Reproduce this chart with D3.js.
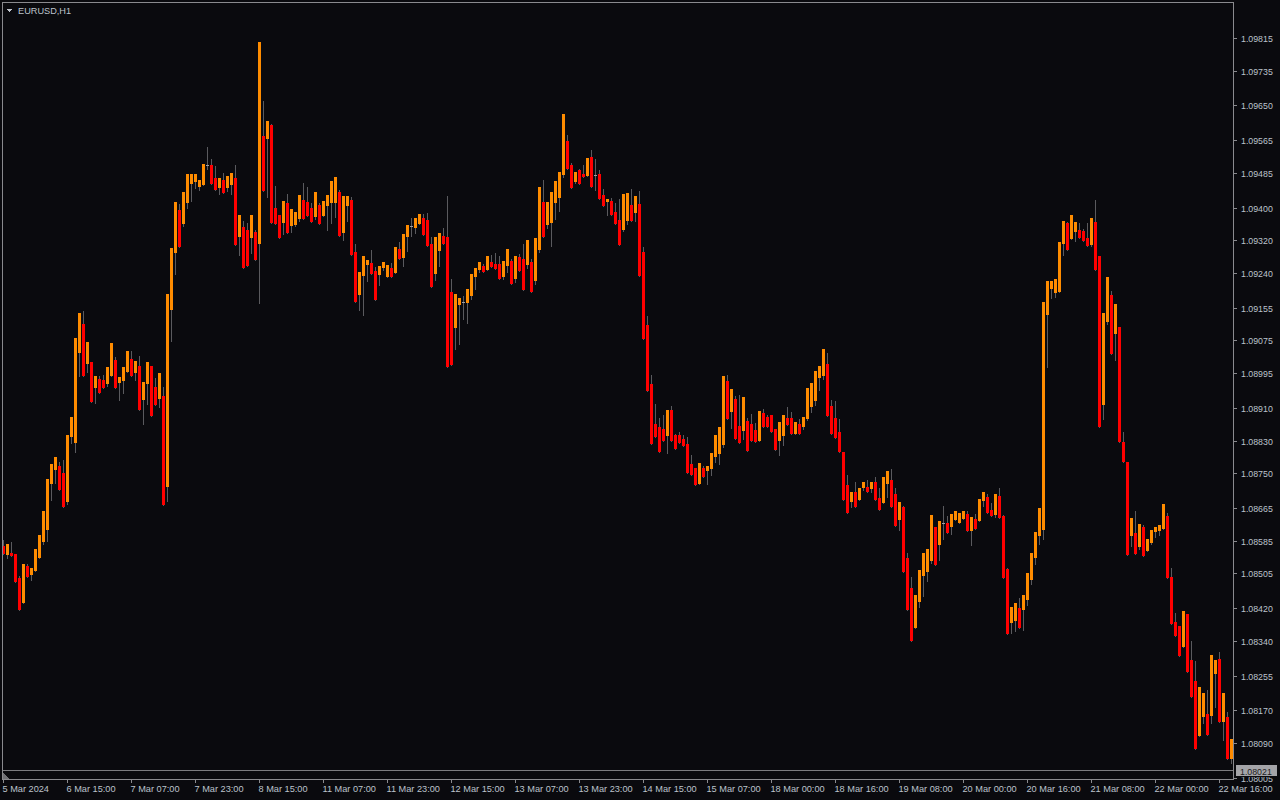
<!DOCTYPE html>
<html><head><meta charset="utf-8">
<script src="https://cdn.jsdelivr.net/npm/d3@7"></script>
<style>html,body{margin:0;padding:0;background:#0a0a0e;overflow:hidden}svg{display:block}</style>
</head><body>
<svg id="c" width="1280" height="800"></svg>
<script>
const symbol = "EURUSD,H1";
const bidPrice = 1.08021;
const priceTicks = [1.09815,1.09735,1.09650,1.09565,1.09485,1.09400,1.09320,1.09240,1.09155,1.09075,1.08995,1.08910,1.08830,1.08750,1.08665,1.08585,1.08505,1.08420,1.08340,1.08255,1.08170,1.08090,1.08005];
const timeLabels = ["5 Mar 2024","6 Mar 15:00","7 Mar 07:00","7 Mar 23:00","8 Mar 15:00","11 Mar 07:00","11 Mar 23:00","12 Mar 15:00","13 Mar 07:00","13 Mar 23:00","14 Mar 15:00","15 Mar 07:00","18 Mar 00:00","18 Mar 16:00","19 Mar 08:00","20 Mar 00:00","20 Mar 16:00","21 Mar 08:00","22 Mar 00:00","22 Mar 16:00"];
const timeLabelBars = [0,16,32,48,64,80,96,112,128,144,160,176,192,208,224,240,256,272,288,304];

const opens = [
1.08572,1.08550,1.08555,1.08552,1.08494,1.08433,1.08523,1.08501,1.08511,1.08543,
1.08582,1.08611,1.08724,1.08758,1.08768,1.08751,1.08680,1.08839,1.08824,1.09044,
1.09115,1.09017,1.09022,1.08959,1.08981,1.08978,1.08968,1.08988,1.09027,1.08971,
1.08976,1.08998,1.09030,1.08995,1.09012,1.08929,1.08968,1.09012,1.08961,1.08932,
1.08939,1.08716,1.09149,1.09289,1.09394,1.09360,1.09411,1.09458,1.09463,1.09450,
1.09455,1.09504,1.09504,1.09472,1.09448,1.09468,1.09448,1.09455,1.09472,1.09328,
1.09353,1.09345,1.09326,1.09340,1.09311,1.09575,1.09568,1.09602,1.09399,1.09382,
1.09362,1.09411,1.09355,1.09357,1.09372,1.09419,1.09414,1.09399,1.09377,1.09406,
1.09379,1.09404,1.09411,1.09411,1.09438,1.09338,1.09404,1.09419,1.09291,1.09186,
1.09233,1.09260,1.09264,1.09245,1.09235,1.09252,1.09230,1.09252,1.09240,1.09299,
1.09277,1.09328,1.09355,1.09350,1.09360,1.09375,1.09370,1.09311,1.09238,1.09294,
1.09331,1.09328,1.09194,1.09105,1.09162,1.09169,1.09167,1.09184,1.09230,1.09247,
1.09257,1.09247,1.09267,1.09262,1.09262,1.09230,1.09257,1.09269,1.09225,1.09279,
1.09274,1.09260,1.09267,1.09220,1.09296,1.09414,1.09357,1.09362,1.09411,1.09424,
1.09480,1.09563,1.09504,1.09463,1.09492,1.09482,1.09477,1.09524,1.09480,1.09482,
1.09431,1.09414,1.09416,1.09389,1.09370,1.09345,1.09367,1.09406,1.09387,1.09409,
1.09291,1.09113,1.08968,1.08871,1.08863,1.08858,1.08841,1.08905,1.08844,1.08844,
1.08834,1.08822,1.08773,1.08763,1.08724,1.08763,1.08756,1.08760,1.08790,1.08797,
1.08819,1.08976,1.08900,1.08932,1.08866,1.08853,1.08878,1.08871,1.08856,1.08829,
1.08897,1.08888,1.08893,1.08858,1.08829,1.08841,1.08885,1.08885,1.08846,1.08871,
1.08863,1.08883,1.08912,1.08927,1.08983,1.08988,1.09017,1.08915,1.08885,1.08851,
1.08802,1.08721,1.08680,1.08704,1.08685,1.08714,1.08716,1.08711,1.08729,1.08689,
1.08677,1.08724,1.08734,1.08699,1.08636,1.08667,1.08543,1.08469,1.08371,1.08435,
1.08499,1.08508,1.08535,1.08619,1.08574,1.08628,1.08628,1.08619,1.08636,1.08628,
1.08638,1.08650,1.08609,1.08638,1.08633,1.08682,1.08692,1.08660,1.08648,1.08694,
1.08645,1.08516,1.08384,1.08389,1.08420,1.08415,1.08440,1.08489,1.08543,1.08597,
1.08611,1.09137,1.09201,1.09191,1.09194,1.09311,1.09362,1.09323,1.09340,1.09345,
1.09343,1.09326,1.09309,1.09365,1.09282,1.08917,1.09120,1.09186,1.09091,1.09108,
1.08827,1.08778,1.08597,1.08604,1.08570,1.08619,1.08560,1.08579,1.08606,1.08609,
1.08614,1.08645,1.08496,1.08386,1.08376,1.08325,1.08406,1.08293,1.08242,1.08107,
1.08154,1.08161,1.08156,1.08259,1.08296,1.08141,1.08154,1.08051];

const highs = [
1.08587,1.08577,1.08582,1.08552,1.08499,1.08528,1.08528,1.08518,1.08565,1.08599,
1.08658,1.08736,1.08773,1.08790,1.08778,1.08782,1.08844,1.08888,1.09081,1.09142,
1.09147,1.09071,1.09022,1.08988,1.08988,1.08990,1.09010,1.09069,1.09034,1.08986,
1.09010,1.09049,1.09049,1.09025,1.09037,1.08973,1.09022,1.09012,1.08983,1.08995,
1.08961,1.09189,1.09301,1.09414,1.09409,1.09438,1.09482,1.09482,1.09482,1.09468,
1.09507,1.09548,1.09519,1.09502,1.09472,1.09485,1.09477,1.09485,1.09504,1.09382,
1.09367,1.09362,1.09382,1.09345,1.09805,1.09661,1.09612,1.09605,1.09453,1.09382,
1.09416,1.09433,1.09397,1.09389,1.09431,1.09460,1.09450,1.09411,1.09438,1.09411,
1.09416,1.09431,1.09465,1.09475,1.09443,1.09428,1.09428,1.09426,1.09311,1.09242,
1.09282,1.09272,1.09296,1.09255,1.09257,1.09267,1.09260,1.09264,1.09304,1.09316,
1.09335,1.09357,1.09375,1.09375,1.09384,1.09384,1.09387,1.09328,1.09328,1.09338,
1.09350,1.09428,1.09225,1.09189,1.09179,1.09184,1.09201,1.09238,1.09252,1.09267,
1.09262,1.09282,1.09284,1.09289,1.09282,1.09269,1.09299,1.09274,1.09282,1.09287,
1.09311,1.09321,1.09274,1.09326,1.09450,1.09468,1.09414,1.09438,1.09465,1.09487,
1.09629,1.09578,1.09509,1.09487,1.09494,1.09504,1.09521,1.09541,1.09519,1.09492,
1.09446,1.09421,1.09424,1.09411,1.09421,1.09433,1.09436,1.09446,1.09428,1.09441,
1.09304,1.09135,1.08990,1.08919,1.08885,1.08893,1.08905,1.08915,1.08846,1.08851,
1.08844,1.08839,1.08795,1.08763,1.08775,1.08768,1.08768,1.08800,1.08844,1.08863,
1.08988,1.08990,1.08956,1.08939,1.08942,1.08937,1.08885,1.08895,1.08873,1.08902,
1.08907,1.08893,1.08893,1.08858,1.08875,1.08893,1.08912,1.08900,1.08875,1.08883,
1.08888,1.08959,1.08971,1.09000,1.09012,1.09054,1.09044,1.08929,1.08927,1.08883,
1.08802,1.08746,1.08704,1.08729,1.08714,1.08729,1.08734,1.08729,1.08741,1.08714,
1.08741,1.08756,1.08760,1.08714,1.08680,1.08670,1.08555,1.08496,1.08452,1.08513,
1.08555,1.08565,1.08648,1.08619,1.08633,1.08670,1.08645,1.08650,1.08658,1.08653,
1.08658,1.08658,1.08643,1.08650,1.08687,1.08704,1.08699,1.08677,1.08699,1.08714,
1.08648,1.08518,1.08423,1.08433,1.08445,1.08452,1.08506,1.08555,1.08606,1.08665,
1.09169,1.09220,1.09220,1.09225,1.09316,1.09367,1.09365,1.09382,1.09365,1.09362,
1.09348,1.09362,1.09375,1.09419,1.09282,1.09142,1.09230,1.09196,1.09164,1.09108,
1.08851,1.08778,1.08641,1.08658,1.08626,1.08623,1.08589,1.08611,1.08619,1.08623,
1.08675,1.08653,1.08518,1.08408,1.08376,1.08413,1.08406,1.08340,1.08291,1.08227,
1.08212,1.08220,1.08305,1.08293,1.08313,1.08212,1.08166,1.08100];

const lows = [
1.08552,1.08543,1.08548,1.08484,1.08415,1.08433,1.08496,1.08489,1.08511,1.08543,
1.08577,1.08584,1.08685,1.08726,1.08709,1.08667,1.08675,1.08824,1.08802,1.08988,
1.08988,1.08998,1.08924,1.08922,1.08946,1.08959,1.08964,1.08988,1.08959,1.08929,
1.08946,1.08998,1.08988,1.08978,1.08905,1.08871,1.08919,1.08890,1.08917,1.08912,
1.08672,1.08682,1.09074,1.09238,1.09304,1.09355,1.09399,1.09416,1.09448,1.09443,
1.09455,1.09494,1.09458,1.09443,1.09433,1.09436,1.09441,1.09433,1.09309,1.09284,
1.09252,1.09257,1.09289,1.09272,1.09167,1.09441,1.09426,1.09362,1.09360,1.09326,
1.09335,1.09338,1.09340,1.09355,1.09367,1.09372,1.09379,1.09365,1.09372,1.09360,
1.09379,1.09345,1.09362,1.09377,1.09331,1.09321,1.09367,1.09284,1.09169,1.09149,
1.09137,1.09220,1.09238,1.09174,1.09211,1.09247,1.09230,1.09230,1.09240,1.09274,
1.09257,1.09294,1.09331,1.09338,1.09360,1.09333,1.09306,1.09206,1.09223,1.09257,
1.09311,1.09010,1.09015,1.09054,1.09066,1.09127,1.09118,1.09176,1.09201,1.09242,
1.09242,1.09247,1.09255,1.09250,1.09225,1.09225,1.09242,1.09213,1.09218,1.09245,
1.09198,1.09252,1.09194,1.09213,1.09291,1.09328,1.09350,1.09306,1.09372,1.09392,
1.09475,1.09494,1.09448,1.09460,1.09458,1.09475,1.09477,1.09450,1.09443,1.09421,
1.09404,1.09382,1.09382,1.09360,1.09309,1.09343,1.09360,1.09367,1.09367,1.09233,
1.09079,1.08951,1.08822,1.08839,1.08802,1.08829,1.08800,1.08829,1.08809,1.08824,
1.08817,1.08751,1.08746,1.08721,1.08724,1.08741,1.08724,1.08746,1.08778,1.08773,
1.08814,1.08883,1.08861,1.08834,1.08824,1.08834,1.08804,1.08829,1.08827,1.08829,
1.08863,1.08863,1.08851,1.08807,1.08795,1.08819,1.08868,1.08846,1.08846,1.08846,
1.08858,1.08880,1.08900,1.08917,1.08954,1.08981,1.08890,1.08846,1.08836,1.08802,
1.08685,1.08653,1.08667,1.08667,1.08685,1.08709,1.08704,1.08704,1.08685,1.08660,
1.08677,1.08692,1.08667,1.08621,1.08611,1.08508,1.08415,1.08340,1.08371,1.08423,
1.08450,1.08486,1.08530,1.08526,1.08538,1.08589,1.08604,1.08601,1.08636,1.08628,
1.08638,1.08609,1.08574,1.08614,1.08633,1.08670,1.08653,1.08645,1.08643,1.08641,
1.08494,1.08357,1.08359,1.08364,1.08371,1.08367,1.08428,1.08479,1.08528,1.08577,
1.08589,1.09010,1.09179,1.09181,1.09194,1.09284,1.09296,1.09323,1.09318,1.09326,
1.09318,1.09306,1.09306,1.09247,1.08863,1.08883,1.09115,1.09042,1.09027,1.08827,
1.08778,1.08550,1.08572,1.08552,1.08565,1.08548,1.08560,1.08577,1.08594,1.08599,
1.08614,1.08494,1.08381,1.08352,1.08303,1.08325,1.08264,1.08203,1.08075,1.08107,
1.08139,1.08110,1.08139,1.08178,1.08141,1.08097,1.08051,1.08041];

const closes = [
1.08552,1.08577,1.08548,1.08484,1.08415,1.08528,1.08496,1.08518,1.08565,1.08599,
1.08658,1.08736,1.08773,1.08790,1.08709,1.08667,1.08844,1.08888,1.09081,1.09142,
1.08988,1.09071,1.08924,1.08988,1.08946,1.08959,1.09010,1.09069,1.08959,1.08986,
1.09010,1.09049,1.08988,1.09025,1.08905,1.08973,1.09022,1.08890,1.08917,1.08995,
1.08672,1.09189,1.09301,1.09414,1.09304,1.09438,1.09482,1.09482,1.09482,1.09468,
1.09507,1.09504,1.09458,1.09443,1.09472,1.09436,1.09477,1.09485,1.09309,1.09382,
1.09252,1.09257,1.09382,1.09272,1.09805,1.09441,1.09612,1.09362,1.09360,1.09326,
1.09416,1.09338,1.09397,1.09389,1.09431,1.09372,1.09379,1.09365,1.09438,1.09360,
1.09416,1.09431,1.09465,1.09475,1.09331,1.09428,1.09428,1.09284,1.09169,1.09242,
1.09282,1.09272,1.09238,1.09174,1.09257,1.09267,1.09260,1.09230,1.09304,1.09274,
1.09335,1.09357,1.09355,1.09375,1.09384,1.09333,1.09306,1.09206,1.09328,1.09338,
1.09311,1.09010,1.09015,1.09189,1.09179,1.09169,1.09201,1.09238,1.09252,1.09267,
1.09242,1.09282,1.09255,1.09250,1.09225,1.09269,1.09299,1.09213,1.09282,1.09245,
1.09198,1.09321,1.09194,1.09326,1.09450,1.09328,1.09414,1.09438,1.09465,1.09487,
1.09629,1.09494,1.09448,1.09487,1.09458,1.09475,1.09521,1.09450,1.09480,1.09421,
1.09404,1.09421,1.09382,1.09360,1.09309,1.09433,1.09436,1.09367,1.09428,1.09233,
1.09079,1.08951,1.08822,1.08839,1.08802,1.08829,1.08905,1.08829,1.08809,1.08824,
1.08817,1.08751,1.08746,1.08721,1.08775,1.08741,1.08768,1.08800,1.08844,1.08863,
1.08988,1.08883,1.08956,1.08834,1.08824,1.08937,1.08804,1.08829,1.08827,1.08902,
1.08863,1.08863,1.08851,1.08807,1.08875,1.08893,1.08868,1.08846,1.08875,1.08846,
1.08888,1.08959,1.08971,1.09000,1.09012,1.09054,1.08890,1.08846,1.08836,1.08802,
1.08685,1.08653,1.08704,1.08667,1.08714,1.08729,1.08704,1.08729,1.08685,1.08660,
1.08741,1.08756,1.08667,1.08621,1.08680,1.08508,1.08415,1.08340,1.08452,1.08513,
1.08555,1.08565,1.08648,1.08526,1.08633,1.08628,1.08604,1.08650,1.08658,1.08653,
1.08658,1.08609,1.08643,1.08614,1.08687,1.08704,1.08653,1.08645,1.08699,1.08641,
1.08494,1.08357,1.08423,1.08433,1.08371,1.08452,1.08506,1.08555,1.08606,1.08665,
1.09169,1.09220,1.09220,1.09225,1.09316,1.09367,1.09296,1.09382,1.09365,1.09326,
1.09318,1.09306,1.09375,1.09247,1.08863,1.09142,1.09230,1.09042,1.09164,1.08827,
1.08778,1.08550,1.08641,1.08552,1.08626,1.08548,1.08589,1.08611,1.08619,1.08623,
1.08675,1.08494,1.08381,1.08352,1.08303,1.08413,1.08264,1.08203,1.08075,1.08227,
1.08212,1.08110,1.08305,1.08293,1.08141,1.08212,1.08051,1.08100];

const bars = opens.map((o, i) => ({i, o, h: highs[i], l: lows[i], c: closes[i]}));

const W = 1280, H = 800;
const plotLeft = 2, plotRight = 1233, plotTop = 2, plotBottom = 779;
const svg = d3.select("#c").attr("shape-rendering", "crispEdges");
svg.append("rect").attr("width", W).attr("height", H).attr("fill", "#0a0a0e");

const x = d3.scaleLinear().domain([0, bars.length - 1]).range([3, 3 + 4 * (bars.length - 1)]);
const y = d3.scaleLinear().domain([1.08090, 1.09815]).range([743, 38]);

const font = "'Liberation Sans', Arial, sans-serif";
const textCol = "#bcc3cc";

const defs = svg.append("defs");
defs.append("clipPath").attr("id", "pc").append("rect")
  .attr("x", plotLeft + 1).attr("y", plotTop + 1).attr("width", plotRight - plotLeft - 1).attr("height", plotBottom - plotTop - 1);
const by = Math.round(y(bidPrice));
defs.append("clipPath").attr("id", "below").append("rect")
  .attr("x", 1236).attr("y", by + 6).attr("width", 44).attr("height", 30);

const plot = svg.append("g").attr("clip-path", "url(#pc)");

// bid line
plot.append("line").attr("x1", plotLeft).attr("x2", plotRight)
  .attr("y1", by - 0.5).attr("y2", by - 0.5)
  .attr("stroke", "#7c7c80").attr("stroke-width", 1);

// wicks
plot.append("g").selectAll("line").data(bars).join("line")
  .attr("x1", d => Math.round(x(d.i)) + 0.5).attr("x2", d => Math.round(x(d.i)) + 0.5)
  .attr("y1", d => Math.round(y(d.h))).attr("y2", d => Math.round(y(d.l)) + 1)
  .attr("stroke", "#5a5a5e").attr("stroke-width", 1);

// bodies
plot.append("g").selectAll("rect").data(bars.filter(d => d.o !== d.c)).join("rect")
  .attr("x", d => Math.round(x(d.i)) - 1).attr("width", 3)
  .attr("y", d => Math.round(y(Math.max(d.o, d.c))))
  .attr("height", d => Math.max(1, Math.round(y(Math.min(d.o, d.c))) - Math.round(y(Math.max(d.o, d.c)))))
  .attr("fill", d => d.c > d.o ? "#ff8c00" : "#ff0000");

// doji marks
plot.append("g").selectAll("rect").data(bars.filter(d => d.o === d.c)).join("rect")
  .attr("x", d => Math.round(x(d.i)) - 1).attr("width", 3)
  .attr("y", d => Math.round(y(d.o))).attr("height", 1)
  .attr("fill", "#a0a0a4");

// frame
const frameCol = "#8a8a8e";
svg.append("rect").attr("x", plotLeft + 0.5).attr("y", plotTop + 0.5)
  .attr("width", plotRight - plotLeft).attr("height", plotBottom - plotTop)
  .attr("fill", "none").attr("stroke", frameCol).attr("stroke-width", 1);

// shift marker
svg.append("path").attr("d", `M${plotLeft + 1},${plotBottom - 6} L${plotLeft + 1},${plotBottom} L${plotLeft + 7},${plotBottom} Z`)
  .attr("fill", "#707074");

// right axis
const ra = svg.append("g");
priceTicks.forEach(p => {
  const yy = Math.round(y(p));
  ra.append("line").attr("x1", plotRight + 1).attr("x2", plotRight + 4).attr("y1", yy + 0.5).attr("y2", yy + 0.5)
    .attr("stroke", frameCol);
  const hidden = yy > by - 6 && yy < by + 12;
  const t = ra.append("text").attr("x", 1241).attr("y", yy + 3.5).text(p.toFixed(5))
    .attr("font-family", font).attr("font-size", "8.8px").attr("fill", textCol);
  if (hidden) t.attr("clip-path", "url(#below)");
});

// bid label
svg.append("rect").attr("x", 1236).attr("y", by - 6).attr("width", 41).attr("height", 11).attr("fill", "#a4a4a8");
svg.append("text").attr("x", 1240).attr("y", by + 3.5).text(bidPrice.toFixed(5))
  .attr("font-family", font).attr("font-size", "8.8px").attr("fill", "#1c1c20");

// bottom axis
const ba = svg.append("g");
timeLabels.forEach((t, k) => {
  const xx = Math.round(x(timeLabelBars[k]));
  ba.append("line").attr("x1", xx + 0.5).attr("x2", xx + 0.5).attr("y1", plotBottom + 1).attr("y2", plotBottom + 4)
    .attr("stroke", frameCol);
  ba.append("text").attr("x", xx - 0.5).attr("y", 792).text(t)
    .attr("font-family", font).attr("font-size", "9.2px").attr("fill", textCol);
});

// title
svg.append("path").attr("d", "M6,9 L12,9 L9,12 Z").attr("fill", "#c0c4cc");
svg.append("text").attr("x", 18).attr("y", 14).text(symbol)
  .attr("font-family", font).attr("font-size", "9.2px").attr("fill", textCol);
</script>
</body></html>
